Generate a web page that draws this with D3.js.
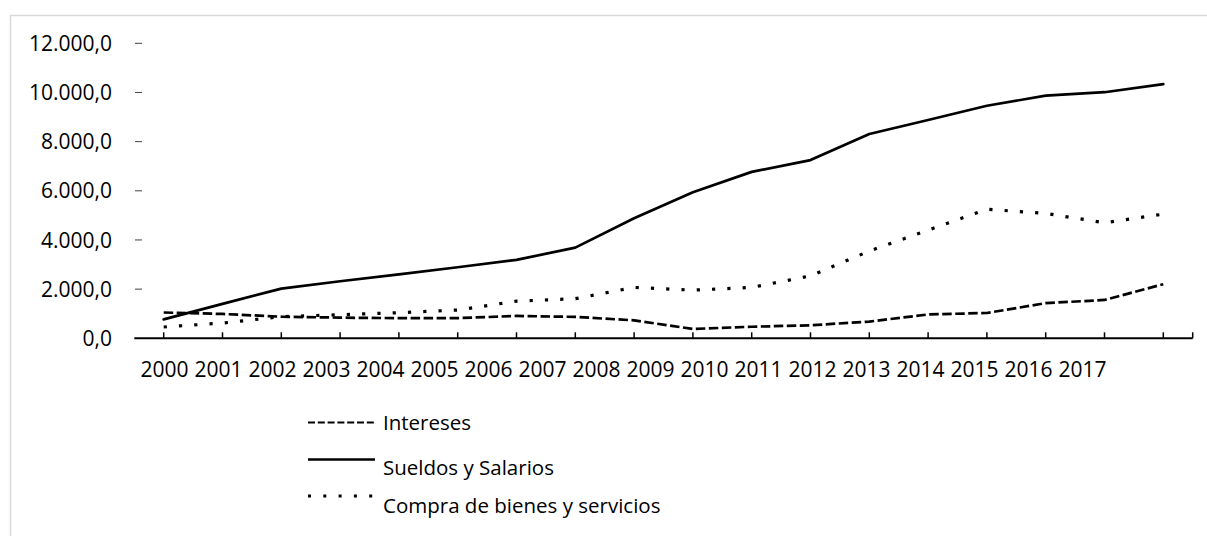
<!DOCTYPE html>
<html>
<head>
<meta charset="utf-8">
<script src="https://cdn.jsdelivr.net/npm/d3@7"></script>
<style>
  html, body { margin: 0; padding: 0; background: #fff; }
  svg { display: block; }
  text { font-family: "Open Sans", "Noto Sans", sans-serif; fill: #000; }
</style>
</head>
<body>
<svg id="chart" width="1207" height="536"></svg>
<script>
// Years on the category axis
const years = ["2000","2001","2002","2003","2004","2005","2006","2007","2008",
               "2009","2010","2011","2012","2013","2014","2015","2016","2017"];

// Series values
const intereses = [1050, 990, 880, 840, 820, 820, 910, 870, 730, 380,
                   470, 530, 680, 970, 1030, 1430, 1560, 2200];
const sueldos   = [770, 1400, 2020, 2320, 2600, 2890, 3190, 3690, 4880, 5940,
                   6770, 7250, 8310, 8880, 9460, 9870, 10010, 10340];
const compras   = [460, 620, 880, 960, 1040, 1150, 1510, 1610, 2070, 1960,
                   2070, 2540, 3550, 4400, 5250, 5080, 4700, 5050];

// Y-axis tick values
const yTicks = [0, 2000, 4000, 6000, 8000, 10000, 12000];

// Legend entries
const legendLabels = ["Intereses", "Sueldos y Salarios", "Compra de bienes y servicios"];

const svg = d3.select("#chart");

// frame
svg.append("path")
  .attr("d", "M10.5,536 L10.5,15.5 L1207,15.5")
  .attr("fill", "none")
  .attr("stroke", "#d9d9d9")
  .attr("stroke-width", 1.5);

const x = d3.scaleBand().domain(years).range([134.3, 1192.7]);
const cx = d => x(d) + x.bandwidth() / 2;
const y = d3.scaleLinear().domain([0, 12000]).range([338.3, 43.3]);

// category labels run as an evenly spaced row
const xLabel = d3.scalePoint().domain(years).range([164.5, 164.5 + 54 * 17]);

const locale = d3.formatLocale({ decimal: ",", thousands: ".", grouping: [3], currency: ["", ""] });
const fmt = locale.format(",.1f");

// y labels and short tick marks
const yg = svg.append("g");
yg.selectAll("text").data(yTicks).join("text")
  .attr("x", 112)
  .attr("y", d => y(d))
  .attr("dy", "0.36em")
  .attr("text-anchor", "end")
  .style("font-size", "21px")
  .text(d => fmt(d));
yg.selectAll("line").data(yTicks.filter(d => d > 0)).join("line")
  .attr("x1", 135).attr("x2", 142)
  .attr("y1", d => y(d)).attr("y2", d => y(d))
  .attr("stroke", "#404040").attr("stroke-width", 1);

// x axis
const xg = svg.append("g");
xg.append("line")
  .attr("x1", x.range()[0]).attr("x2", x.range()[1])
  .attr("y1", y(0)).attr("y2", y(0))
  .attr("stroke", "#000").attr("stroke-width", 2);
const tickXs = years.map(cx).concat([x.range()[1]]);
xg.selectAll("line.tick").data(tickXs).join("line")
  .attr("class", "tick")
  .attr("x1", d => d).attr("x2", d => d)
  .attr("y1", y(0)).attr("y2", y(0) - 6)
  .attr("stroke", "#000").attr("stroke-width", 1.5);
xg.selectAll("text").data(years).join("text")
  .attr("x", d => xLabel(d))
  .attr("y", 376.7)
  .attr("text-anchor", "middle")
  .style("font-size", "21px")
  .text(d => d);

// series lines
const line = d3.line()
  .x((d, i) => cx(years[i]))
  .y(d => y(d));

const series = [
  { values: intereses, dash: "9.5,3.5", cap: "butt", w: 2.7 },
  { values: sueldos,   dash: null,      cap: "round", w: 2.7 },
  { values: compras,   dash: "3.2,12.1", cap: "butt", w: 3.2 }
];

svg.append("g").selectAll("path").data(series).join("path")
  .attr("d", d => line(d.values))
  .attr("fill", "none")
  .attr("stroke", "#000")
  .attr("stroke-width", d => d.w)
  .attr("stroke-linejoin", "round")
  .attr("stroke-linecap", d => d.cap)
  .attr("stroke-dasharray", d => d.dash);

// legend
const legendSample = [422.5, 459.5, 496];
const legendBase = [429.5, 475, 512.7];
const legendDash = ["7,2.8", null, "3,12.3"];
const legendW = [2.2, 2.4, 3];
const lg = svg.append("g");
legendLabels.forEach((lab, i) => {
  lg.append("line")
    .attr("x1", 308).attr("x2", 375)
    .attr("y1", legendSample[i]).attr("y2", legendSample[i])
    .attr("stroke", "#000")
    .attr("stroke-width", legendW[i])
    .attr("stroke-dasharray", legendDash[i]);
  lg.append("text")
    .attr("x", 383)
    .attr("y", legendBase[i])
    .style("font-size", "20.5px")
    .text(lab);
});
</script>
</body>
</html>
